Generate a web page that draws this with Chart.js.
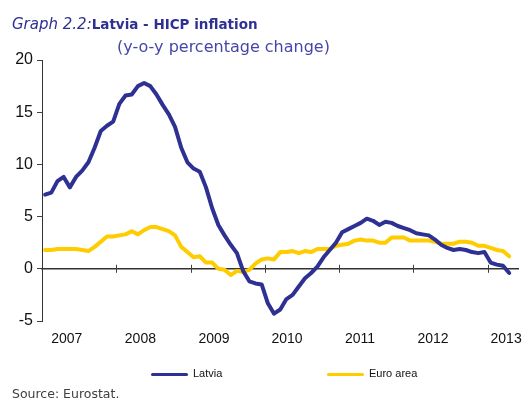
<!DOCTYPE html>
<html>
<head>
<meta charset="utf-8">
<script src="https://cdn.jsdelivr.net/npm/chart.js@4"></script>
<style>
  body { margin: 0; background: #fff; }
  #page { position: relative; width: 532px; height: 401px; overflow: hidden; }
  #chart { position: absolute; left: 0; top: 0; }
  .title { position: absolute; left: 12px; top: 14px; white-space: nowrap; color: #2e3192; font-family: 'DejaVu Sans', sans-serif; line-height: 20px; }
  .title i { font-size: 15px; font-weight: normal; }
  .title b { font-size: 13.5px; }
  .subtitle { position: absolute; left: 117px; top: 37px; white-space: nowrap; color: #4646aa; font-family: 'DejaVu Sans', sans-serif; font-size: 16px; line-height: 20px; }
  .legend { position: absolute; top: 366px; font-family: 'Liberation Sans', Arial, sans-serif; font-size: 11px; color: #111; line-height: 14px; white-space: nowrap; }
  .legend span.ln { display: inline-block; width: 37px; height: 3px; vertical-align: middle; margin-right: 5px; border-radius: 2px; }
  .source { position: absolute; left: 12px; top: 386px; font-family: 'DejaVu Sans', sans-serif; font-size: 12.5px; color: #404040; white-space: nowrap; line-height: 16px; }
</style>
</head>
<body>
<div id="page">
  <canvas id="chart" width="532" height="401"></canvas>
  <div class="title"><i>Graph 2.2:</i><b>Latvia - HICP inflation</b></div>
  <div class="subtitle">(y-o-y percentage change)</div>
  <div class="legend" style="left:151px"><span class="ln" style="background:#2e3192"></span>Latvia</div>
  <div class="legend" style="left:327px"><span class="ln" style="background:#ffcc00"></span>Euro area</div>
  <div class="source">Source: Eurostat.</div>
</div>
<script>
// monthly y-o-y rates, Jan 2007 - Apr 2013
const latvia = [
    7.1, 7.3, 8.4, 8.8, 7.8, 8.8, 9.4, 10.2, 11.6, 13.2, 13.7, 14.1,
    15.8, 16.6, 16.7, 17.5, 17.8, 17.5, 16.7, 15.7, 14.8, 13.6, 11.6, 10.2,
    9.6, 9.3, 7.8, 5.8, 4.2, 3.2, 2.3, 1.5, -0.2, -1.2, -1.4, -1.5,
    -3.3, -4.3, -3.9, -2.9, -2.5, -1.7, -0.9, -0.4, 0.2, 1.1, 1.8, 2.5,
    3.5, 3.8, 4.1, 4.4, 4.8, 4.6, 4.2, 4.5, 4.4, 4.1, 3.9, 3.7,
    3.4, 3.3, 3.2, 2.8, 2.3, 2.0, 1.8, 1.9, 1.8, 1.6, 1.5, 1.6,
    0.6, 0.4, 0.3, -0.4
];
const euroArea = [
    1.8, 1.8, 1.9, 1.9, 1.9, 1.9, 1.8, 1.7, 2.1, 2.6, 3.1, 3.1,
    3.2, 3.3, 3.6, 3.3, 3.7, 4.0, 4.0, 3.8, 3.6, 3.2, 2.1, 1.6,
    1.1, 1.2, 0.6, 0.6, 0.0, -0.1, -0.6, -0.2, -0.3, -0.1, 0.5, 0.9,
    1.0, 0.9, 1.6, 1.6, 1.7, 1.5, 1.7, 1.6, 1.9, 1.9, 1.9, 2.2,
    2.3, 2.4, 2.7, 2.8, 2.7, 2.7, 2.5, 2.5, 3.0, 3.0, 3.0, 2.7,
    2.7, 2.7, 2.7, 2.6, 2.4, 2.4, 2.4, 2.6, 2.6, 2.5, 2.2, 2.2,
    2.0, 1.8, 1.7, 1.2
];
const yearLabels = ['2007', '2008', '2009', '2010', '2011', '2012', '2013'];
const yearLabelPos = [3.5, 15.4, 27.3, 39.1, 50.9, 62.7, 74.5];
const yearBreaks = [11.5, 23.5, 35.5, 47.5, 59.5, 71.5];

Chart.defaults.font.family = "'Liberation Sans', Arial, sans-serif";
Chart.defaults.color = '#111';

const toPoints = arr => arr.map((v, i) => ({ x: i, y: v }));

// small tick marks crossing the zero line at each year break
const crossTicks = {
    id: 'crossTicks',
    afterDatasetsDraw(chart) {
        const xs = chart.scales.x, ys = chart.scales.y;
        const ctx = chart.ctx;
        const y0 = ys.getPixelForValue(0);
        ctx.save();
        ctx.strokeStyle = '#404040';
        ctx.lineWidth = 1;
        yearBreaks.forEach(v => {
            const px = Math.round(xs.getPixelForValue(v)) + 0.5;
            ctx.beginPath();
            ctx.moveTo(px, y0 - 4);
            ctx.lineTo(px, y0 + 4);
            ctx.stroke();
        });
        ctx.restore();
    }
};

new Chart(document.getElementById('chart').getContext('2d'), {
    type: 'line',
    data: {
        datasets: [{
            label: 'Latvia',
            data: toPoints(latvia),
            borderColor: '#2e3192',
            borderWidth: 4,
            pointRadius: 0,
            tension: 0,
            borderJoinStyle: 'round',
            borderCapStyle: 'round'
        }, {
            label: 'Euro area',
            data: toPoints(euroArea),
            borderColor: '#ffcc00',
            borderWidth: 4,
            pointRadius: 0,
            tension: 0,
            borderJoinStyle: 'round',
            borderCapStyle: 'round'
        }]
    },
    options: {
        responsive: false,
        animation: false,
        layout: { padding: { top: 60, right: 13, left: 0, bottom: 0 } },
        plugins: { legend: { display: false }, tooltip: { enabled: false } },
        scales: {
            x: {
                type: 'linear',
                min: -0.5,
                max: 76.5,
                position: { y: 0 },
                ticks: { display: false },
                grid: { display: false },
                border: { color: '#333', width: 1.5 }
            },
            x2: {
                type: 'linear',
                min: -0.5,
                max: 76.5,
                position: 'bottom',
                afterBuildTicks: scale => { scale.ticks = yearLabelPos.map(v => ({ value: v })); },
                afterFit: scale => { scale.height = 80; },
                ticks: {
                    font: { size: 14 },
                    padding: 10,
                    maxRotation: 0,
                    autoSkip: false,
                    callback: (value, index) => yearLabels[index]
                },
                grid: { display: false, drawTicks: false },
                border: { display: false }
            },
            y: {
                min: -5,
                max: 20,
                afterFit: scale => { scale.width = 42; },
                ticks: { stepSize: 5, font: { size: 16 }, padding: 4 },
                grid: { drawOnChartArea: false, tickLength: 5, color: '#404040' },
                border: { color: '#333', width: 1 }
            }
        }
    },
    plugins: [crossTicks]
});
</script>
</body>
</html>
